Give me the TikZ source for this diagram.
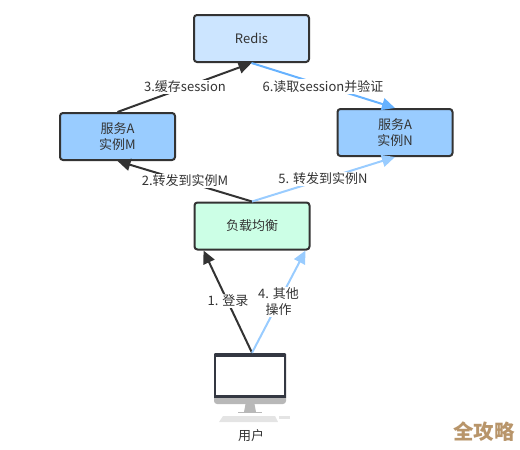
\documentclass[tikz,border=0pt]{standalone}
\usepackage{fontspec}
\setmainfont{Noto Sans CJK SC}
\usepackage{tikz}
\usetikzlibrary{arrows.meta}
\definecolor{boxline}{HTML}{333333}
\definecolor{redisblue}{HTML}{CCE5FF}
\definecolor{serviceblue}{HTML}{99CCFF}
\definecolor{balancegreen}{HTML}{CCFFE6}
\definecolor{readblue}{HTML}{66B2FF}
\definecolor{screendark}{HTML}{343842}
\definecolor{standgray}{HTML}{B8B8B8}
\definecolor{keygray}{HTML}{E4E4E4}
\definecolor{markbrown}{HTML}{B8956A}
\tikzset{
  box/.style={draw=boxline,line width=2pt,rounded corners=3pt,minimum width=115pt,minimum height=47pt,align=center,text=boxline,font=\fontsize{13}{16}\selectfont},
  flow/.style={line width=2pt,-{Triangle[length=13pt,width=12pt]}},
  steptext/.style={fill=white,inner sep=1pt,align=center,text=boxline,font=\fontsize{13}{16}\selectfont}
}
\begin{document}
\begin{tikzpicture}[x=1pt,y=-1pt]
  \useasboundingbox (0,0) rectangle (520,450);
  % boxes
  \node[box,fill=redisblue] (redis) at (251.5,38.5) {Redis};
  \node[box,fill=serviceblue] (servM) at (117.5,136.5) {服务A\\实例M};
  \node[box,fill=serviceblue] (servN) at (395,132.5) {服务A\\实例N};
  \node[box,fill=balancegreen] (balance) at (252,226) {负载均衡};
  % computer
  \node[fill=screendark,rounded corners=1pt,minimum width=72pt,minimum height=46pt,inner sep=0pt] (user) at (250,376) {};
  \node[fill=white,minimum width=68pt,minimum height=38pt,inner sep=0pt] (screen) at (250,376) {};
  \fill[standgray] (214,398) -- (286,398) -- (286,401) arc (0:90:3) -- (217,404) arc (90:180:3) -- cycle;
  \fill[standgray] (245.5,404) -- (254.5,404) -- (256,412) -- (244,412) -- cycle;
  \fill[standgray] (238,411.5) rectangle (262,413);
  \fill[keygray] (223,416) -- (275,416) -- (278,422) -- (219,422) -- cycle;
  \fill[keygray] (279,416) rectangle (290,419);
  \node[text=boxline,font=\fontsize{13}{16}\selectfont] (userlabel) at (251,436) {用户};
  % arrows
  \draw[flow,boxline] ([xshift=2pt]user.north) -- ([xshift=10pt]balance.south west);
  \draw[flow,serviceblue] ([xshift=2pt]user.north) -- ([xshift=-5pt]balance.south east);
  \draw[flow,boxline] (balance.north) -- (servM.south);
  \draw[flow,serviceblue] (balance.north) -- (servN.south);
  \draw[flow,boxline] (servM.north) -- (redis.south);
  \draw[flow,readblue] (redis.south) -- (servN.north);
  % labels
  \node[steptext] (login) at (228,301) {1. 登录};
  \node[steptext] (other) at (278.5,302) {4. 其他\\操作};
  \node[steptext] (toM) at (185,181) {2.转发到实例M};
  \node[steptext] (toN) at (323,179) {5. 转发到实例N};
  \node[steptext] (save) at (185,87) {3.缓存session};
  \node[steptext] (read) at (323,86.5) {6.读取session并验证};
  \node[text=markbrown,font=\fontsize{20.5}{21}\selectfont\bfseries] (mark) at (484,432) {全攻略};
\end{tikzpicture}
\end{document}
